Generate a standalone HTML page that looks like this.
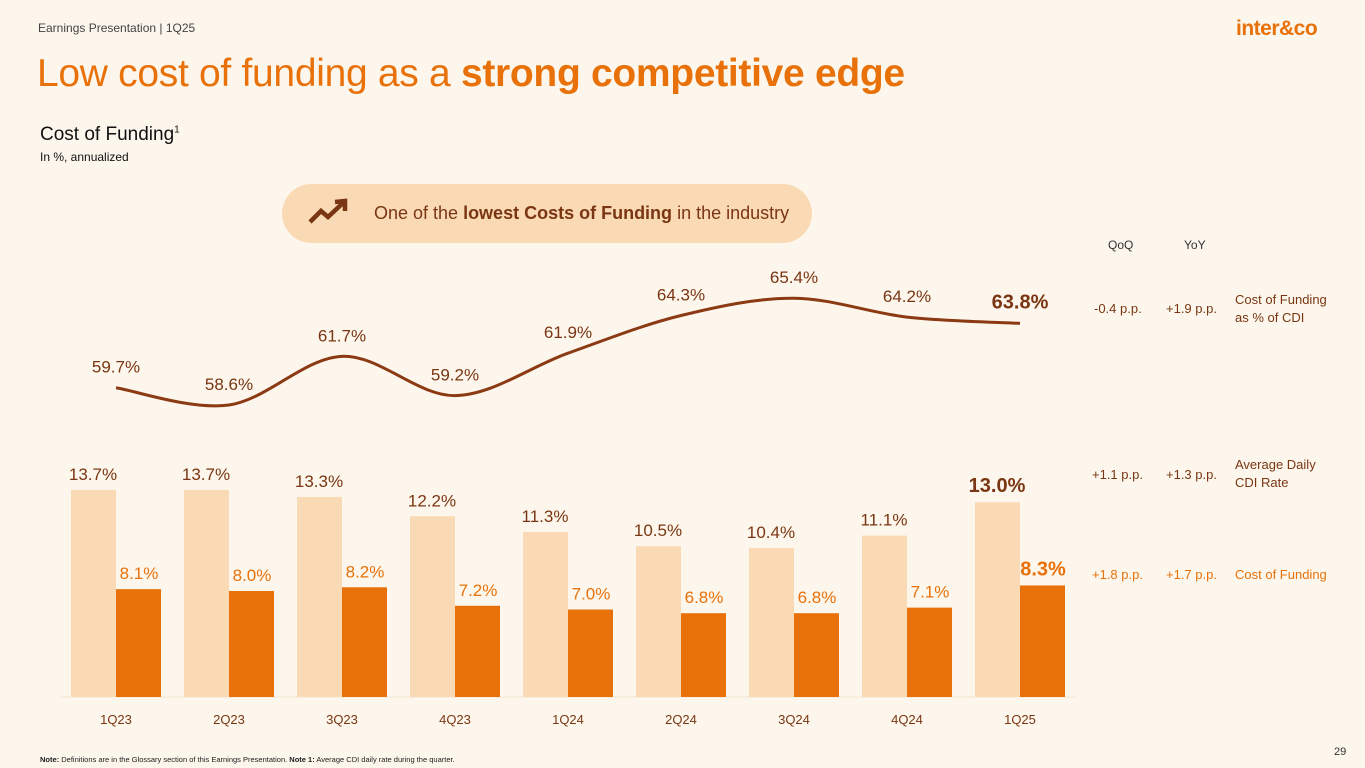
<!DOCTYPE html>
<html><head><meta charset="utf-8"><style>
body{margin:0;width:1365px;height:768px;background:#fcf6ec;font-family:"Liberation Sans",sans-serif;overflow:hidden;position:relative}
.a{position:absolute;white-space:nowrap}
</style></head><body>
<div class="a" style="left:38px;top:21px;font-size:12px;color:#444">Earnings Presentation | 1Q25</div>
<div class="a" style="left:1236px;top:17px;font-size:21px;font-weight:bold;color:#e8710a;letter-spacing:-0.5px">inter&amp;co</div>
<div class="a" style="left:37px;top:52px;font-size:39px;color:#e8710a;letter-spacing:-0.3px">Low cost of funding as a <b>strong competitive edge</b></div>
<div class="a" style="left:40px;top:124px;font-size:19px;color:#111">Cost of Funding<sup style="font-size:10px">1</sup></div>
<div class="a" style="left:40px;top:150px;font-size:12px;color:#111">In %, annualized</div>
<div class="a" style="left:282px;top:184px;width:530px;height:59px;border-radius:30px;background:#fad9b5"></div>
<svg class="a" style="left:308px;top:198px" width="42" height="28" viewBox="0 0 42 28"><path d="M2 24 L13 13 L20 19 L36 4 M27 4 L37 3 L37 13" fill="none" stroke="#7a3612" stroke-width="4.5"/></svg>
<div class="a" style="left:374px;top:203px;font-size:18px;color:#7a3612">One of the <b>lowest Costs of Funding</b> in the industry</div>
<div class="a" style="left:1108px;top:238px;font-size:12px;color:#333">QoQ</div>
<div class="a" style="left:1184px;top:238px;font-size:12px;color:#333">YoY</div>
<div class="a" style="left:1094px;top:301px;font-size:13px;color:#7a3612">-0.4 p.p.</div>
<div class="a" style="left:1166px;top:301px;font-size:13px;color:#7a3612">+1.9 p.p.</div>
<div class="a" style="left:1235px;top:291px;font-size:13px;line-height:18px;color:#7a3612">Cost of Funding<br>as % of CDI</div>
<div class="a" style="left:1092px;top:467px;font-size:13px;color:#7a3612">+1.1 p.p.</div>
<div class="a" style="left:1166px;top:467px;font-size:13px;color:#7a3612">+1.3 p.p.</div>
<div class="a" style="left:1235px;top:456px;font-size:13px;line-height:18px;color:#7a3612">Average Daily<br>CDI Rate</div>
<div class="a" style="left:1092px;top:567px;font-size:13px;color:#e8710a">+1.8 p.p.</div>
<div class="a" style="left:1166px;top:567px;font-size:13px;color:#e8710a">+1.7 p.p.</div>
<div class="a" style="left:1235px;top:567px;font-size:13px;color:#e8710a">Cost of Funding</div>
<div class="a" style="left:40px;top:755px;font-size:7.5px;color:#222"><b>Note:</b> Definitions are in the Glossary section of this Earnings Presentation. <b>Note 1:</b> Average CDI daily rate during the quarter.</div>
<div class="a" style="left:1334px;top:746px;font-size:11px;color:#333">29</div>
<svg id="chart" class="a" style="left:0;top:0" width="1365" height="768"></svg>
<script>
const categories=["1Q23","2Q23","3Q23","4Q23","1Q24","2Q24","3Q24","4Q24","1Q25"];
const cdiRate=[13.7,13.7,13.3,12.2,11.3,10.5,10.4,11.1,13.0];
const costFunding=[8.1,8.0,8.2,7.2,7.0,6.8,6.8,7.1,8.3];
const pctOfCdi=[59.7,58.6,61.7,59.2,61.9,64.3,65.4,64.2,63.8];
const NS="http://www.w3.org/2000/svg";
const svg=document.getElementById('chart');
const base=697;
const xc=i=>116+113*i;
const hLight=v=>v*17.6-34;
const hDark=v=>v*18.5-42;
const yLine=v=>405-(v-58.6)*15.7;
function mk(t,at){const e=document.createElementNS(NS,t);for(const k in at)e.setAttribute(k,at[k]);svg.appendChild(e);return e;}
const ax=mk('line',{x1:60,x2:1075,y1:base,y2:base,stroke:'#f3e6d3','stroke-width':1});


categories.forEach((c,i)=>{
 const last=i===categories.length-1;
 const h1=hLight(cdiRate[i]);
 const r1=mk('rect',{x:xc(i)-45,y:base-h1,width:45,height:h1,fill:'#fad9b5'});
 
 
 const h2=hDark(costFunding[i]);
 const r2=mk('rect',{x:xc(i),y:base-h2,width:45,height:h2,fill:'#e8710a'});
 
 
 const t1=mk('text',{x:xc(i)-23,y:base-h1-10,'text-anchor':'middle','font-size':last?20:17,'font-weight':last?'bold':'normal',fill:'#7a3612','font-family':'Liberation Sans'});
 t1.textContent=cdiRate[i].toFixed(1)+'%';
 
 
 const t2=mk('text',{x:xc(i)+23,y:base-h2-10,'text-anchor':'middle','font-size':last?20:17,'font-weight':last?'bold':'normal',fill:'#e8710a','font-family':'Liberation Sans'});
 t2.textContent=costFunding[i].toFixed(1)+'%';
 
 
 const t3=mk('text',{x:xc(i),y:724,'text-anchor':'middle','font-size':13,fill:'#7a3612','font-family':'Liberation Sans'});
 t3.textContent=c;
 
 
 const t4=mk('text',{x:xc(i),y:yLine(pctOfCdi[i])-15,'text-anchor':'middle','font-size':last?20:17,'font-weight':last?'bold':'normal',fill:'#7a3612','font-family':'Liberation Sans'});
 t4.textContent=pctOfCdi[i].toFixed(1)+'%';
 
 
});
const pts=pctOfCdi.map((v,i)=>[xc(i),yLine(v)]);
let d='M'+pts[0][0]+' '+pts[0][1];
for(let i=0;i<pts.length-1;i++){
 const p0=pts[Math.max(i-1,0)],p1=pts[i],p2=pts[i+1],p3=pts[Math.min(i+2,pts.length-1)];
 const c1=[p1[0]+(p2[0]-p0[0])/6,p1[1]+(p2[1]-p0[1])/6];
 const c2=[p2[0]-(p3[0]-p1[0])/6,p2[1]-(p3[1]-p1[1])/6];
 d+=` C${c1[0]} ${c1[1]} ${c2[0]} ${c2[1]} ${p2[0]} ${p2[1]}`;
}
const ln=mk('path',{d:d,fill:'none',stroke:'#8b3a14','stroke-width':3});


</script>
</body></html>
